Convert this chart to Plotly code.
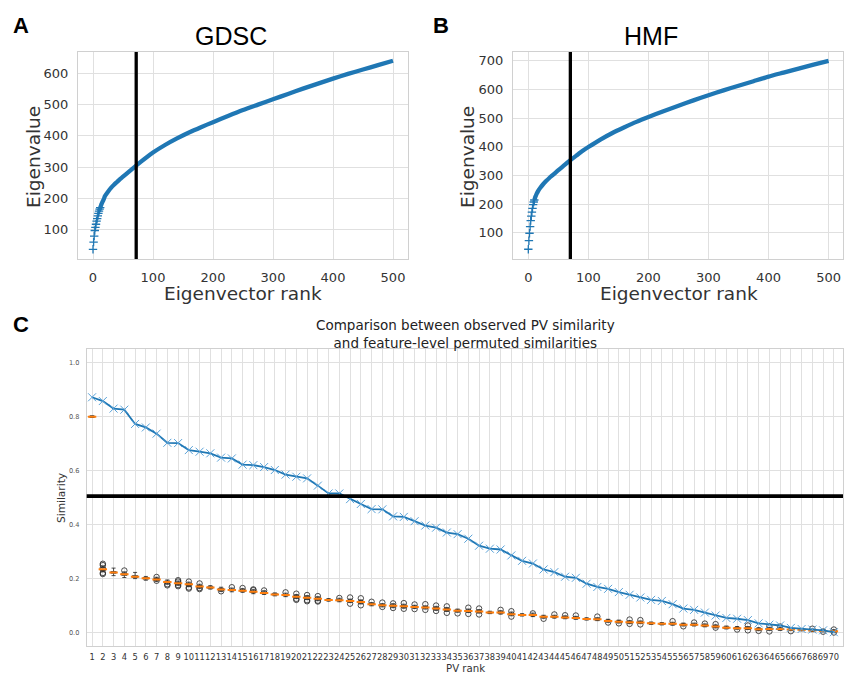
import plotly.graph_objects as go

# ---------------- Panel A (GDSC) ----------------
# first eigenvalues (shown as separate '+' marks)
gdsc_rank_head = [0, 1, 2, 3, 4, 5, 6, 7, 8, 9, 10, 11, 12]
gdsc_val_head = [38, 61, 80, 98, 108, 118, 128, 136, 145, 153, 160, 166, 171]
# rest of the spectrum (dense marks forming a thick curve)
gdsc_rank = [10, 12, 14, 16, 18, 20, 25, 30, 35, 40, 45, 50, 60, 70, 80, 90, 100, 120, 140,
             160, 180, 200, 225, 250, 275, 300, 325, 350, 375, 400, 425, 450, 475, 500]
gdsc_val = [160, 171, 181, 190, 198, 208, 222, 234, 244, 253, 262, 270, 286, 302, 318, 333,
            347, 371, 392, 411, 428, 444, 464, 483, 500, 517, 534, 551, 567, 583, 598, 612,
            626, 640]
gdsc_cut = 72

# ---------------- Panel B (HMF) ----------------
hmf_rank_head = [0, 1, 2, 3, 4, 5, 6, 7, 8, 9, 10]
hmf_val_head = [42, 72, 98, 121, 142, 158, 172, 185, 198, 207, 214]
hmf_rank = [10, 12, 14, 16, 18, 20, 25, 30, 35, 40, 45, 50, 60, 70, 80, 90, 100, 120, 140,
            160, 180, 200, 225, 250, 275, 300, 325, 350, 375, 400, 425, 450, 475, 500]
hmf_val = [214, 226, 236, 244, 251, 257, 270, 281, 291, 300, 309, 318, 336, 353, 369, 385,
           399, 425, 448, 468, 487, 504, 524, 543, 562, 580, 597, 613, 629, 645, 659, 673,
           687, 700]
hmf_cut = 70

# ---------------- Panel C ----------------
pv_rank = list(range(1, 71))
observed = [0.872, 0.858, 0.830, 0.826, 0.773, 0.760, 0.737, 0.703, 0.702, 0.676,
            0.670, 0.664, 0.648, 0.645, 0.622, 0.620, 0.613, 0.602, 0.585, 0.577,
            0.571, 0.544, 0.515, 0.515, 0.494, 0.476, 0.457, 0.456, 0.430, 0.428,
            0.412, 0.396, 0.388, 0.370, 0.364, 0.347, 0.321, 0.310, 0.307, 0.285,
            0.265, 0.255, 0.233, 0.223, 0.206, 0.202, 0.180, 0.168, 0.161, 0.149,
            0.139, 0.129, 0.120, 0.116, 0.104, 0.088, 0.083, 0.073, 0.062, 0.053,
            0.050, 0.045, 0.033, 0.028, 0.025, 0.016, 0.012, 0.010, 0.007, 0.000]
perm_median = [0.800, 0.234, 0.222, 0.215, 0.206, 0.200, 0.196, 0.186, 0.182, 0.178,
               0.170, 0.166, 0.159, 0.157, 0.154, 0.150, 0.146, 0.140, 0.138, 0.132,
               0.128, 0.124, 0.120, 0.119, 0.116, 0.112, 0.104, 0.100, 0.098, 0.096,
               0.094, 0.092, 0.088, 0.084, 0.080, 0.079, 0.077, 0.073, 0.073, 0.067,
               0.064, 0.064, 0.057, 0.057, 0.055, 0.053, 0.049, 0.048, 0.042, 0.039,
               0.037, 0.036, 0.033, 0.031, 0.031, 0.028, 0.028, 0.025, 0.021, 0.017,
               0.015, 0.015, 0.011, 0.012, 0.012, 0.010, 0.009, 0.006, 0.005, 0.004]
perm_q1 = [0.798, 0.229, 0.219, 0.211, 0.203, 0.197, 0.192, 0.182, 0.178, 0.173,
           0.166, 0.163, 0.155, 0.154, 0.151, 0.147, 0.143, 0.138, 0.135, 0.128,
           0.124, 0.120, 0.118, 0.116, 0.113, 0.108, 0.101, 0.097, 0.094, 0.092,
           0.091, 0.089, 0.084, 0.080, 0.077, 0.076, 0.074, 0.071, 0.070, 0.064,
           0.062, 0.061, 0.054, 0.055, 0.052, 0.050, 0.047, 0.045, 0.039, 0.036,
           0.034, 0.034, 0.031, 0.029, 0.028, 0.025, 0.025, 0.022, 0.018, 0.014,
           0.013, 0.012, 0.008, 0.009, 0.009, 0.008, 0.007, 0.004, 0.003, 0.002]
perm_q3 = [0.802, 0.241, 0.225, 0.219, 0.210, 0.203, 0.200, 0.190, 0.186, 0.182,
           0.174, 0.169, 0.163, 0.160, 0.158, 0.154, 0.150, 0.143, 0.141, 0.136,
           0.132, 0.128, 0.122, 0.122, 0.119, 0.116, 0.107, 0.103, 0.102, 0.100,
           0.097, 0.095, 0.092, 0.088, 0.083, 0.082, 0.080, 0.075, 0.076, 0.071,
           0.066, 0.067, 0.060, 0.060, 0.058, 0.056, 0.051, 0.051, 0.045, 0.042,
           0.040, 0.039, 0.035, 0.033, 0.034, 0.031, 0.031, 0.028, 0.024, 0.020,
           0.018, 0.018, 0.014, 0.015, 0.015, 0.012, 0.011, 0.009, 0.008, 0.006]
perm_lo = [0.797, 0.224, 0.210, 0.203, 0.199, 0.193, 0.188, 0.178, 0.174, 0.169,
           0.162, 0.160, 0.151, 0.150, 0.148, 0.143, 0.140, 0.135, 0.132, 0.125,
           0.121, 0.117, 0.115, 0.113, 0.110, 0.105, 0.098, 0.094, 0.091, 0.089,
           0.088, 0.086, 0.081, 0.077, 0.074, 0.073, 0.071, 0.069, 0.067, 0.061,
           0.060, 0.058, 0.052, 0.052, 0.050, 0.048, 0.045, 0.043, 0.037, 0.034,
           0.032, 0.032, 0.029, 0.027, 0.026, 0.023, 0.023, 0.020, 0.016, 0.012,
           0.011, 0.010, 0.006, 0.007, 0.007, 0.006, 0.005, 0.002, 0.001, 0.000]
perm_hi = [0.803, 0.246, 0.238, 0.224, 0.222, 0.207, 0.204, 0.194, 0.190, 0.186,
           0.178, 0.173, 0.167, 0.164, 0.162, 0.158, 0.154, 0.146, 0.145, 0.140,
           0.136, 0.132, 0.125, 0.126, 0.123, 0.120, 0.110, 0.106, 0.106, 0.104,
           0.100, 0.098, 0.096, 0.092, 0.086, 0.086, 0.084, 0.078, 0.080, 0.075,
           0.069, 0.071, 0.063, 0.063, 0.061, 0.059, 0.054, 0.054, 0.048, 0.045,
           0.043, 0.042, 0.038, 0.036, 0.037, 0.034, 0.034, 0.031, 0.027, 0.023,
           0.021, 0.021, 0.017, 0.018, 0.018, 0.015, 0.014, 0.012, 0.011, 0.009]
perm_outliers = [
    [], [0.254, 0.249, 0.220, 0.216], [], [0.229], [], [], [0.205, 0.191], [0.178, 0.174],
    [0.193, 0.188, 0.175, 0.171], [0.188, 0.166, 0.162], [0.181, 0.164, 0.160], [], [0.152],
    [0.167], [0.164], [0.159, 0.156], [0.155], [], [0.148], [0.143, 0.124, 0.120],
    [0.138, 0.119, 0.115], [0.134, 0.117, 0.114], [], [0.127], [0.129, 0.106], [0.126, 0.100],
    [0.113], [0.110, 0.094], [0.107, 0.090], [0.108, 0.087], [0.103, 0.086], [0.104, 0.083],
    [0.099, 0.079], [0.096, 0.072], [0.070], [0.091, 0.068], [0.088, 0.066], [], [0.083],
    [0.078, 0.058], [], [0.070], [0.050], [0.066], [0.063], [0.062], [], [0.058], [0.036],
    [0.033], [0.047, 0.031], [0.045, 0.029], [], [], [0.041], [0.022], [0.036], [0.032],
    [0.030, 0.017], [], [0.010], [0.025, 0.007], [0.005], [0.022, 0.003], [0.021], [0.004],
    [], [0.013], [0.002], [0.010, -0.001],
]
threshold = 0.505

W, H = 844, 673
BLUE = "#1f77b4"
TICK_FONT = "DejaVu Sans"


def px(x, y):
    return x / W, 1 - y / H


fig = go.Figure()

for rk, vl, rk_h, vl_h, xa, ya in [
        (gdsc_rank, gdsc_val, gdsc_rank_head, gdsc_val_head, "x", "y"),
        (hmf_rank, hmf_val, hmf_rank_head, hmf_val_head, "x2", "y2")]:
    fig.add_trace(go.Scatter(
        x=rk, y=vl, mode="lines", xaxis=xa, yaxis=ya,
        line=dict(color=BLUE, width=4.3, shape="spline", smoothing=0.6),
        showlegend=False))
    fig.add_trace(go.Scatter(
        x=rk_h, y=vl_h, mode="markers", xaxis=xa, yaxis=ya,
        marker=dict(symbol="cross-thin", size=6, line=dict(color=BLUE, width=1.3)),
        showlegend=False))

# Panel C: boxes
fig.add_trace(go.Box(
    x=pv_rank, q1=perm_q1, median=perm_median, q3=perm_q3,
    lowerfence=perm_lo, upperfence=perm_hi, xaxis="x3", yaxis="y3",
    width=0.5, whiskerwidth=0.75, boxpoints=False,
    line=dict(color="#222222", width=0.8), fillcolor="rgba(0,0,0,0)",
    showlegend=False))
out_x, out_y = [], []
for r, vals in zip(pv_rank, perm_outliers):
    for v in vals:
        out_x.append(r)
        out_y.append(v)
fig.add_trace(go.Scatter(
    x=out_x, y=out_y, mode="markers", xaxis="x3", yaxis="y3",
    marker=dict(symbol="circle-open", size=5.5, color="#222222", line=dict(width=0.8)),
    showlegend=False))
fig.add_trace(go.Scatter(
    x=pv_rank, y=perm_median, mode="markers", xaxis="x3", yaxis="y3",
    marker=dict(symbol="line-ew", size=6, line=dict(color="#ff7f0e", width=2)),
    showlegend=False))
fig.add_trace(go.Scatter(
    x=pv_rank, y=observed, mode="lines+markers", xaxis="x3", yaxis="y3",
    line=dict(color=BLUE, width=1.8),
    marker=dict(symbol="x-thin", size=8, line=dict(color="#5aa2d8", width=1)),
    showlegend=False))

grid = "#e0e0e0"
frame = "#d0d0d0"
ab_axis = dict(showgrid=True, gridcolor=grid, gridwidth=1, zeroline=False,
               showline=True, mirror=True, linecolor=frame, linewidth=1,
               ticks="", tickfont=dict(family=TICK_FONT, size=13, color="#333333"),
               ticklabelstandoff=6)

fig.update_layout(
    width=W, height=H, margin=dict(l=0, r=0, t=0, b=0),
    paper_bgcolor="white", plot_bgcolor="white", showlegend=False,
    xaxis=dict(ab_axis, domain=[78 / W, 408 / W], range=[-25, 525],
               tickvals=[0, 100, 200, 300, 400, 500], anchor="y"),
    yaxis=dict(ab_axis, domain=[1 - 259 / H, 1 - 52 / H], range=[7, 668],
               tickvals=[100, 200, 300, 400, 500, 600], anchor="x"),
    xaxis2=dict(ab_axis, domain=[513 / W, 843 / W], range=[-25.5, 524],
                tickvals=[0, 100, 200, 300, 400, 500], anchor="y2"),
    yaxis2=dict(ab_axis, domain=[1 - 259 / H, 1 - 52 / H], range=[8, 731],
                tickvals=[100, 200, 300, 400, 500, 600, 700], anchor="x2"),
    xaxis3=dict(showgrid=True, gridcolor=grid, zeroline=False, showline=True, mirror=True,
                linecolor=frame, linewidth=1, ticks="",
                domain=[86.7 / W, 843 / W], range=[0.5, 70.85],
                tickvals=pv_rank, ticktext=[str(r) for r in pv_rank], tickangle=0,
                tickfont=dict(family=TICK_FONT, size=8.3, color="#333333"),
                ticklabelstandoff=3, anchor="y3"),
    yaxis3=dict(showgrid=True, gridcolor=grid, zeroline=False, showline=True, mirror=True,
                linecolor=frame, linewidth=1, ticks="",
                domain=[1 - 645.7 / H, 1 - 349.3 / H], range=[-0.05, 1.05],
                tickvals=[0.0, 0.2, 0.4, 0.6, 0.8, 1.0],
                ticktext=["0.0", "0.2", "0.4", "0.6", "0.8", "1.0"],
                tickfont=dict(family=TICK_FONT, size=6.6, color="#555555"),
                ticklabelstandoff=5, anchor="x3"),
)

# threshold / cut-off lines
fig.add_shape(type="line", xref="x", yref="y domain", x0=gdsc_cut, x1=gdsc_cut, y0=0, y1=1,
              line=dict(color="black", width=3.3))
fig.add_shape(type="line", xref="x2", yref="y2 domain", x0=hmf_cut, x1=hmf_cut, y0=0, y1=1,
              line=dict(color="black", width=3.3))
fig.add_shape(type="line", xref="x3 domain", yref="y3", x0=0, x1=1, y0=threshold, y1=threshold,
              line=dict(color="black", width=3.8))


def ann(text, x, y, size, family=TICK_FONT, color="#333333", angle=0):
    ax, ay = px(x, y)
    fig.add_annotation(text=text, x=ax, y=ay, xref="paper", yref="paper",
                       showarrow=False, xanchor="center", yanchor="middle",
                       textangle=angle, font=dict(family=family, size=size, color=color))


ann("<b>A</b>", 21, 26, 22, "Liberation Sans", "black")
ann("<b>B</b>", 441, 26, 22, "Liberation Sans", "black")
ann("<b>C</b>", 20.5, 324, 22, "Liberation Sans", "black")
ann("GDSC", 231, 36, 25, "Liberation Sans", "black")
ann("HMF", 651, 36, 25, "Liberation Sans", "black")
ann("Eigenvector rank", 243, 293, 18.5)
ann("Eigenvector rank", 679, 293, 18.5)
ann("Eigenvalue", 33, 157, 18.5, angle=-90)
ann("Eigenvalue", 467, 157, 18.5, angle=-90)
ann("Comparison between observed PV similarity<br>and feature-level permuted similarities",
    465, 334, 13.5, color="#222222")
ann("Similarity", 61, 498, 10.6, angle=-90)
ann("PV rank", 465, 668.5, 10.2)

fig.write_html("out.html")
